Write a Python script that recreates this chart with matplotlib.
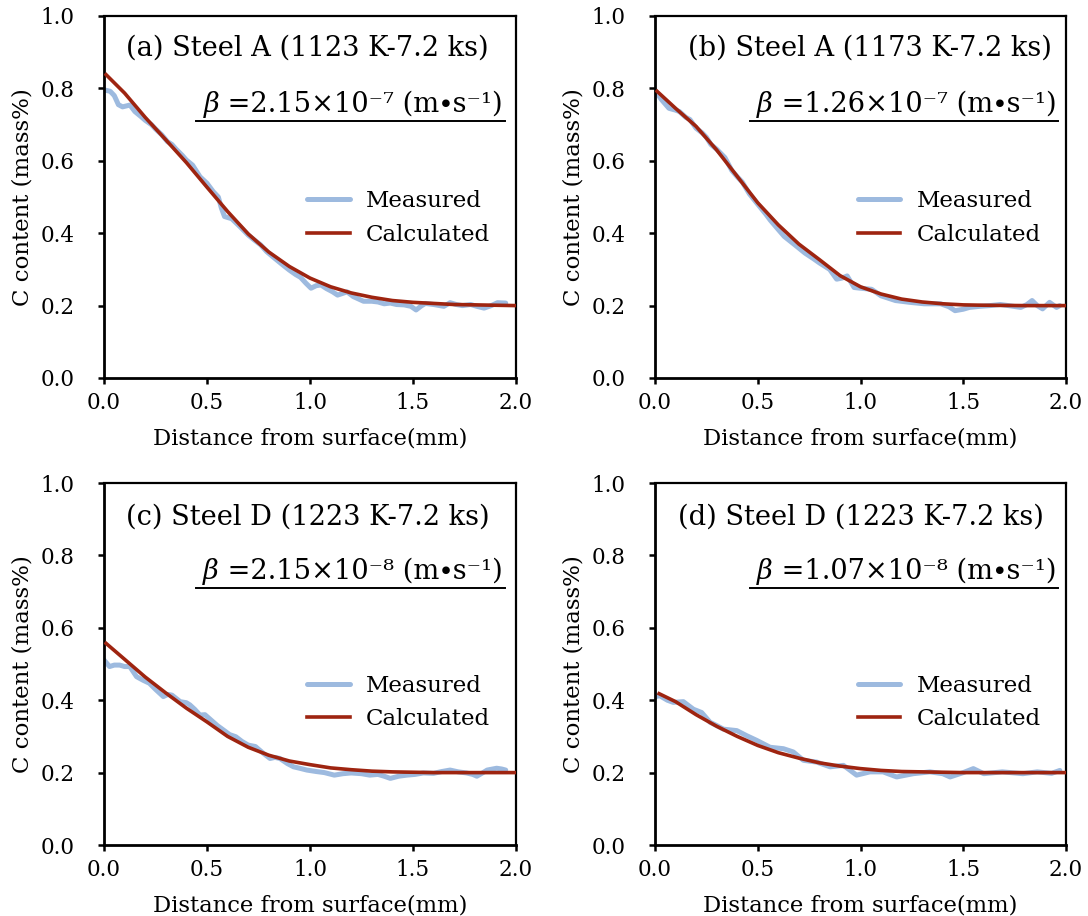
import matplotlib
matplotlib.use("Agg")
import matplotlib.pyplot as plt
from matplotlib.ticker import FormatStrFormatter

plt.rcParams['font.family'] = ['DejaVu Serif', 'DejaVu Sans']

# ---------------- data ----------------
meas_a_x = [0.00, 0.03, 0.05, 0.07, 0.09, 0.126, 0.15, 0.18, 0.20, 0.23, 0.25, 0.28, 0.308, 0.33,
            0.35, 0.38, 0.40, 0.43, 0.466, 0.50, 0.53, 0.555, 0.57, 0.585, 0.62, 0.66, 0.70,
            0.73, 0.76, 0.79, 0.83, 0.873, 0.90, 0.93, 0.954, 0.98, 1.005, 1.03, 1.053, 1.08,
            1.11, 1.134, 1.16, 1.18, 1.21, 1.26, 1.30, 1.33, 1.36, 1.39, 1.42, 1.457, 1.49,
            1.515, 1.54, 1.56, 1.60, 1.65, 1.68, 1.71, 1.74, 1.78, 1.81, 1.845, 1.88, 1.91, 1.95]
meas_a_y = [0.796, 0.792, 0.78, 0.755, 0.749, 0.754, 0.736, 0.722, 0.712, 0.70, 0.688, 0.672, 0.653, 0.645,
            0.632, 0.615, 0.602, 0.588, 0.556, 0.538, 0.515, 0.50, 0.469, 0.446, 0.44, 0.418, 0.395,
            0.381, 0.368, 0.349, 0.33, 0.310, 0.298, 0.286, 0.278, 0.262, 0.248, 0.255, 0.257, 0.247,
            0.238, 0.229, 0.234, 0.238, 0.225, 0.212, 0.212, 0.21, 0.205, 0.207, 0.203, 0.202, 0.198,
            0.188, 0.199, 0.206, 0.203, 0.198, 0.208, 0.203, 0.200, 0.203, 0.198, 0.193, 0.200, 0.208, 0.207]
calc_a_x = [0.01, 0.1, 0.2, 0.3, 0.4, 0.5, 0.6, 0.7, 0.8, 0.9, 1.0, 1.1, 1.2, 1.3, 1.4, 1.5, 1.6, 1.7, 1.8, 1.9, 2.0]
calc_a_y = [0.838, 0.787, 0.72, 0.658, 0.595, 0.527, 0.46, 0.398, 0.348, 0.308, 0.276, 0.252, 0.235, 0.223,
            0.214, 0.209, 0.206, 0.203, 0.202, 0.201, 0.200]

meas_b_x = [0.00, 0.03, 0.068, 0.10, 0.119, 0.15, 0.17, 0.20, 0.23, 0.25, 0.272, 0.30, 0.34, 0.374, 0.40,
            0.425, 0.459, 0.49, 0.51, 0.54, 0.561, 0.60, 0.629, 0.68, 0.73, 0.77, 0.80, 0.85, 0.884,
            0.91, 0.935, 0.969, 1.00, 1.054, 1.08, 1.10, 1.17, 1.24, 1.31, 1.39, 1.43, 1.46, 1.50,
            1.53, 1.58, 1.63, 1.68, 1.72, 1.78, 1.81, 1.835, 1.86, 1.886, 1.92, 1.954, 1.97]
meas_b_y = [0.795, 0.77, 0.745, 0.74, 0.736, 0.72, 0.714, 0.69, 0.677, 0.665, 0.645, 0.632, 0.609, 0.573, 0.556,
            0.541, 0.509, 0.487, 0.473, 0.452, 0.436, 0.41, 0.391, 0.368, 0.345, 0.33, 0.318, 0.30, 0.273,
            0.276, 0.282, 0.25, 0.248, 0.245, 0.235, 0.227, 0.214, 0.209, 0.205, 0.205, 0.197, 0.186, 0.19,
            0.195, 0.198, 0.20, 0.203, 0.20, 0.195, 0.203, 0.214, 0.20, 0.191, 0.209, 0.195, 0.20]
calc_b_x = [0.01, 0.1, 0.2, 0.3, 0.4, 0.5, 0.6, 0.7, 0.8, 0.9, 1.0, 1.1, 1.2, 1.3, 1.4, 1.5, 1.6, 1.8, 2.0]
calc_b_y = [0.792, 0.745, 0.695, 0.63, 0.557, 0.484, 0.423, 0.37, 0.327, 0.283, 0.252, 0.232, 0.218, 0.21,
            0.205, 0.202, 0.201, 0.200, 0.200]

meas_c_x = [0.00, 0.027, 0.05, 0.076, 0.10, 0.125, 0.158, 0.19, 0.22, 0.25, 0.288, 0.31, 0.33, 0.37, 0.40,
            0.417, 0.44, 0.466, 0.49, 0.52, 0.55, 0.579, 0.61, 0.64, 0.67, 0.70, 0.735, 0.77, 0.806,
            0.83, 0.854, 0.89, 0.92, 0.95, 0.985, 1.03, 1.07, 1.118, 1.16, 1.20, 1.25, 1.29, 1.33,
            1.36, 1.39, 1.43, 1.47, 1.51, 1.55, 1.60, 1.64, 1.68, 1.72, 1.76, 1.79, 1.81, 1.84, 1.86,
            1.906, 1.93, 1.95]
meas_c_y = [0.511, 0.493, 0.497, 0.497, 0.493, 0.493, 0.465, 0.455, 0.447, 0.43, 0.41, 0.416, 0.414, 0.396, 0.393,
            0.387, 0.375, 0.359, 0.36, 0.345, 0.33, 0.318, 0.305, 0.299, 0.286, 0.276, 0.272, 0.255, 0.239,
            0.242, 0.239, 0.225, 0.216, 0.212, 0.207, 0.203, 0.20, 0.193, 0.197, 0.199, 0.197, 0.193, 0.195,
            0.19, 0.184, 0.19, 0.193, 0.195, 0.199, 0.198, 0.203, 0.207, 0.202, 0.199, 0.195, 0.19, 0.20, 0.207,
            0.212, 0.21, 0.207]
calc_c_x = [0.01, 0.1, 0.2, 0.3, 0.4, 0.5, 0.6, 0.7, 0.8, 0.9, 1.0, 1.1, 1.2, 1.3, 1.4, 1.5, 1.6, 1.8, 2.0]
calc_c_y = [0.557, 0.513, 0.464, 0.42, 0.378, 0.34, 0.30, 0.27, 0.248, 0.232, 0.222, 0.213, 0.208, 0.204,
            0.202, 0.201, 0.200, 0.200, 0.200]

meas_d_x = [0.00, 0.024, 0.06, 0.089, 0.138, 0.187, 0.227, 0.268, 0.30, 0.333, 0.398, 0.446, 0.495, 0.56,
            0.625, 0.673, 0.722, 0.787, 0.852, 0.917, 0.981, 1.046, 1.11, 1.176, 1.257, 1.338, 1.40,
            1.436, 1.50, 1.549, 1.60, 1.69, 1.79, 1.86, 1.93, 1.97]
meas_d_y = [0.41, 0.412, 0.40, 0.394, 0.396, 0.375, 0.366, 0.339, 0.33, 0.32, 0.316, 0.302, 0.289, 0.27,
            0.266, 0.257, 0.234, 0.229, 0.216, 0.22, 0.193, 0.202, 0.202, 0.188, 0.197, 0.202, 0.197,
            0.188, 0.20, 0.211, 0.197, 0.202, 0.197, 0.202, 0.198, 0.206]
calc_d_x = [0.02, 0.1, 0.2, 0.3, 0.4, 0.5, 0.6, 0.7, 0.8, 0.9, 1.0, 1.1, 1.2, 1.3, 1.4, 1.5, 1.7, 2.0]
calc_d_y = [0.418, 0.396, 0.36, 0.328, 0.30, 0.275, 0.255, 0.24, 0.227, 0.218, 0.211, 0.206, 0.203, 0.202,
            0.201, 0.200, 0.200, 0.200]

titles = ["(a) Steel A (1123 K-7.2 ks)", "(b) Steel A (1173 K-7.2 ks)",
          "(c) Steel D (1223 K-7.2 ks)", "(d) Steel D (1223 K-7.2 ks)"]
beta_values = [" =2.15×10⁻⁷ (m∙s⁻¹)", " =1.26×10⁻⁷ (m∙s⁻¹)",
               " =2.15×10⁻⁸ (m∙s⁻¹)", " =1.07×10⁻⁸ (m∙s⁻¹)"]
x_ticks = [0.0, 0.5, 1.0, 1.5, 2.0]
y_ticks = [0.0, 0.2, 0.4, 0.6, 0.8, 1.0]
x_label = "Distance from surface(mm)"
y_label = "C content (mass%)"
legend_labels = ["Measured", "Calculated"]

meas = [(meas_a_x, meas_a_y), (meas_b_x, meas_b_y), (meas_c_x, meas_c_y), (meas_d_x, meas_d_y)]
calc = [(calc_a_x, calc_a_y), (calc_b_x, calc_b_y), (calc_c_x, calc_c_y), (calc_d_x, calc_d_y)]

# ---------------- layout / style ----------------
W, H = 1088, 916
boxes_px = [(104, 16, 516, 378), (655, 16, 1066, 378), (104, 483, 516, 845), (655, 483, 1066, 845)]
title_xy = [(0.493, 0.912), (0.523, 0.912), (0.495, 0.907), (0.500, 0.907)]
beta_right = [0.968, 0.976, 0.968, 0.976]
legend_xy = [(0.493, 0.442), (0.494, 0.442), (0.493, 0.393), (0.494, 0.393)]
BLUE = "#9dbadf"
RED = "#9e2410"

fig = plt.figure(figsize=(W / 100, H / 100), dpi=100)
under = []
for i in range(4):
    l, t, r, b = boxes_px[i]
    ax = fig.add_axes([l / W, 1 - b / H, (r - l) / W, (b - t) / H])
    ax.plot(meas[i][0], meas[i][1], color=BLUE, lw=3.6, solid_capstyle='round',
            solid_joinstyle='round', label=legend_labels[0], zorder=2)
    ax.plot(calc[i][0], calc[i][1], color=RED, lw=2.6, label=legend_labels[1], zorder=3)
    ax.set_xlim(0, 2.0)
    ax.set_ylim(0, 1.0)
    ax.set_xticks(x_ticks)
    ax.set_yticks(y_ticks)
    ax.xaxis.set_major_formatter(FormatStrFormatter('%.1f'))
    ax.yaxis.set_major_formatter(FormatStrFormatter('%.1f'))
    ax.tick_params(axis='both', direction='out', length=4, width=1.8, labelsize=15.5,
                   colors='black')
    ax.tick_params(axis='y', pad=17)
    ax.tick_params(axis='x', pad=6)
    for side in ['left', 'bottom']:
        ax.spines[side].set_linewidth(2.0)
    for side in ['top', 'right']:
        ax.spines[side].set_linewidth(1.6)
    ax.set_xlabel(x_label, fontsize=16.3, labelpad=10)
    ax.set_ylabel(y_label, fontsize=16.5, labelpad=5)

    ax.text(title_xy[i][0], title_xy[i][1], titles[i], transform=ax.transAxes,
            ha='center', va='center', fontsize=19.6)
    rt = ax.text(beta_right[i], 0.735, beta_values[i], transform=ax.transAxes,
                 ha='right', va='baseline', fontsize=19.6)
    bt = ax.annotate("β", xy=(0, 0), xycoords=rt, ha='right', va='bottom',
                     fontsize=19.6, style='italic')
    under.append((ax, bt, rt))

    leg = ax.legend(loc='center left', bbox_to_anchor=legend_xy[i], frameon=False,
                    fontsize=16.5, handlelength=1.85, handletextpad=0.7,
                    labelspacing=0.5, borderpad=0, borderaxespad=0)

fig.canvas.draw()
rend = fig.canvas.get_renderer()
for ax, bt, rt in under:
    b1 = bt.get_window_extent(rend)
    b2 = rt.get_window_extent(rend)
    inv = ax.transAxes.inverted()
    x0, y0 = inv.transform((b1.x0 - 7, b1.y0 - 3))
    x1, _ = inv.transform((b2.x1 + 2, b1.y0))
    ax.plot([x0, x1], [y0, y0], transform=ax.transAxes, color='black', lw=1.4,
            clip_on=False, zorder=4)

fig.savefig("out.png", dpi=100)
